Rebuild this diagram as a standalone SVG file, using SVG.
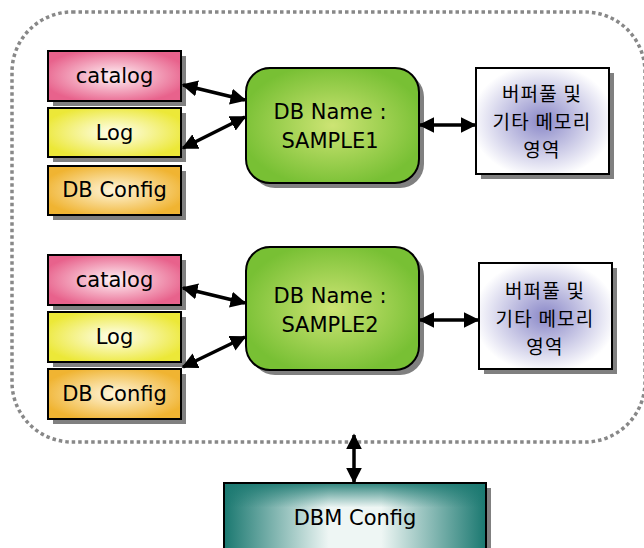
<svg xmlns="http://www.w3.org/2000/svg" width="644" height="548" viewBox="0 0 644 548">
<style>
  .t{font-family:"DejaVu Sans","Noto Sans CJK KR",sans-serif;font-size:21px;fill:#000;text-anchor:middle}
  .k{font-family:"Noto Sans CJK KR","DejaVu Sans",sans-serif;font-size:19px;letter-spacing:1.2px;fill:#000;text-anchor:middle}
  .box{stroke:#000;stroke-width:2}
  .sh{fill:#808080}
  .c{stroke:#000;stroke-width:3.5;fill:none;marker-start:url(#ah);marker-end:url(#ah)}
</style>
<defs>
  <marker id="ah" viewBox="0 0 10 10" refX="9" refY="5" markerWidth="4.6" markerHeight="4.6" orient="auto-start-reverse" markerUnits="strokeWidth">
    <path d="M0,0 L10,5 L0,10 z" fill="#000"/>
  </marker>
  <radialGradient id="gPink" cx="0.5" cy="0.5" r="0.62"><stop offset="0" stop-color="#fff3f6"/><stop offset="0.9" stop-color="#e8628c"/></radialGradient>
  <radialGradient id="gYel" cx="0.5" cy="0.5" r="0.62"><stop offset="0" stop-color="#fffff0"/><stop offset="0.9" stop-color="#ece838"/></radialGradient>
  <radialGradient id="gOra" cx="0.5" cy="0.5" r="0.62"><stop offset="0" stop-color="#fff6dc"/><stop offset="0.9" stop-color="#f0b432"/></radialGradient>
  <radialGradient id="gGrn" cx="0.5" cy="0.5" r="0.6"><stop offset="0" stop-color="#cde474"/><stop offset="0.9" stop-color="#78c034"/></radialGradient>
  <radialGradient id="gMem" cx="0.5" cy="0.5" r="0.6"><stop offset="0" stop-color="#8a88c8"/><stop offset="0.9" stop-color="#ffffff"/></radialGradient>
  <linearGradient id="gTeal" x1="0" y1="0" x2="1" y2="0"><stop offset="0" stop-color="#1a7870"/><stop offset="0.4" stop-color="#eef6f4"/><stop offset="0.6" stop-color="#eef6f4"/><stop offset="1" stop-color="#1a7870"/></linearGradient>
  <linearGradient id="gTealV" x1="0" y1="0" x2="0" y2="1"><stop offset="0" stop-color="#1a7870" stop-opacity="0.9"/><stop offset="0.35" stop-color="#1a7870" stop-opacity="0"/><stop offset="1" stop-color="#1a7870" stop-opacity="0"/></linearGradient>
</defs>
<rect x="12" y="12" width="633" height="430" rx="60" ry="60" fill="none" stroke="#888" stroke-width="3.5" stroke-dasharray="3.5 3"/>

<g id="catalog1"><rect class="sh" x="53" y="56" width="133" height="50"/><rect class="box" x="48" y="51" width="133" height="50" fill="url(#gPink)"/><text class="t" x="114.5" y="83">catalog</text></g>
<g id="log1"><rect class="sh" x="53" y="113" width="133" height="49"/><rect class="box" x="48" y="108" width="133" height="49" fill="url(#gYel)"/><text class="t" x="114.5" y="140">Log</text></g>
<g id="dbconfig1"><rect class="sh" x="53" y="171" width="133" height="49"/><rect class="box" x="48" y="166" width="133" height="49" fill="url(#gOra)"/><text class="t" x="114.5" y="197">DB Config</text></g>
<g id="db1"><rect class="sh" x="251" y="73" width="173" height="115" rx="24"/><rect class="box" x="246" y="68" width="173" height="115" rx="24" fill="url(#gGrn)"/><text class="t" x="330" y="119">DB Name :</text><text class="t" x="330" y="148">SAMPLE1</text></g>
<g id="mem1"><rect class="sh" x="481" y="73" width="133" height="106"/><rect class="box" x="476" y="68" width="133" height="106" fill="url(#gMem)"/><text class="k" x="542" y="101">버퍼풀 및</text><text class="k" x="542" y="129">기타 메모리</text><text class="k" x="542" y="157">영역</text></g>

<g id="catalog2"><rect class="sh" x="53" y="260" width="133" height="50"/><rect class="box" x="48" y="255" width="133" height="50" fill="url(#gPink)"/><text class="t" x="114.5" y="287">catalog</text></g>
<g id="log2"><rect class="sh" x="53" y="317" width="133" height="50"/><rect class="box" x="48" y="312" width="133" height="50" fill="url(#gYel)"/><text class="t" x="114.5" y="344">Log</text></g>
<g id="dbconfig2"><rect class="sh" x="53" y="374" width="133" height="50"/><rect class="box" x="48" y="369" width="133" height="50" fill="url(#gOra)"/><text class="t" x="114.5" y="401">DB Config</text></g>
<g id="db2"><rect class="sh" x="251" y="252" width="173" height="123" rx="24"/><rect class="box" x="246" y="247" width="173" height="123" rx="24" fill="url(#gGrn)"/><text class="t" x="330" y="303">DB Name :</text><text class="t" x="330" y="332">SAMPLE2</text></g>
<g id="mem2"><rect class="sh" x="484" y="268" width="133" height="106"/><rect class="box" x="479" y="263" width="133" height="106" fill="url(#gMem)"/><text class="k" x="545" y="298">버퍼풀 및</text><text class="k" x="545" y="326">기타 메모리</text><text class="k" x="545" y="354">영역</text></g>

<g id="dbm"><rect class="sh" x="229" y="488" width="262" height="70"/><rect x="224" y="483" width="262" height="70" fill="url(#gTeal)"/><rect class="box" x="224" y="483" width="262" height="70" fill="url(#gTealV)"/><text class="t" x="355" y="525">DBM Config</text></g>

<g id="connectors">
  <line class="c" x1="183" y1="85" x2="245" y2="100"/>
  <line class="c" x1="183" y1="148" x2="245" y2="117"/>
  <line class="c" x1="420" y1="125" x2="475" y2="125"/>
  <line class="c" x1="183" y1="288" x2="245" y2="303"/>
  <line class="c" x1="183" y1="367" x2="245" y2="337"/>
  <line class="c" x1="420" y1="320" x2="478" y2="320"/>
  <line class="c" x1="354" y1="435" x2="354" y2="482"/>
</g>
</svg>
